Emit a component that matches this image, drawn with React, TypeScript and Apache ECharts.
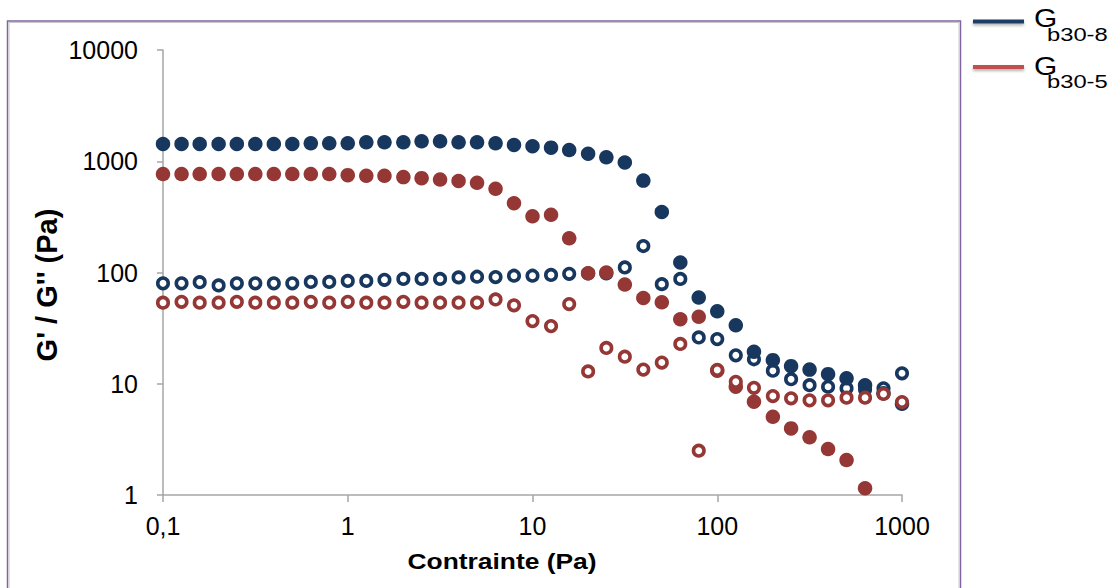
import React, { useEffect, useRef } from "react";
import * as echarts from "echarts";

// Stress (Pa) - logarithmic sweep, 10 points per decade
const stress = [
  0.1, 0.126, 0.158, 0.2, 0.251, 0.316, 0.398, 0.501, 0.631, 0.794,
  1, 1.26, 1.58, 2, 2.51, 3.16, 3.98, 5.01, 6.31, 7.94,
  10, 12.6, 15.8, 20, 25.1, 31.6, 39.8, 50.1, 63.1, 79.4,
  100, 126, 158, 200, 251, 316, 398, 501, 631, 794, 1000,
];

// G' (filled) and G'' (open) for Gb30-8
const gPrime8 = [
  1430, 1430, 1430, 1430, 1430, 1430, 1430, 1430, 1450, 1450,
  1450, 1480, 1480, 1480, 1510, 1510, 1480, 1480, 1450, 1400,
  1365, 1325, 1260, 1170, 1085, 975, 670, 350, 123, 59.6,
  44.8, 33.5, 19.4, 16.3, 14.4, 13.4, 12.2, 11.2, 9.7, 8.2, 6.6,
];
const gSecond8 = [
  80, 80, 81.8, 76.5, 80, 80, 80, 80, 82.3, 82.3,
  84, 84, 86, 87.5, 87.5, 87.5, 90.4, 91.6, 91, 93.5,
  93.5, 95, 97.3, 98, 98, 111, 173, 78.6, 87.5, 26.1,
  25.2, 18, 16.6, 13.1, 11, 9.7, 9.4, 9.1, 8.9, 9.1, 12.4,
];

// G' (filled) and G'' (open) for Gb30-5
const gPrime5 = [
  768, 768, 768, 768, 768, 768, 768, 768, 768, 768,
  750, 740, 740, 720, 705, 685, 665, 640, 565, 420,
  320, 330, 203, 98.5, 100, 78, 59, 54, 38, 40,
  13.1, 9.4, 6.9, 5.05, 3.97, 3.3, 2.59, 2.06, 1.15, null, null,
];
const gSecond5 = [
  53.5, 54.5, 53.5, 53.5, 54.5, 53.5, 53.5, 53.5, 54.5, 53.5,
  54.5, 53.5, 53.5, 54.5, 53.5, 53.5, 53.5, 53.5, 57.3, 50.7,
  36.6, 33, 52, 12.9, 21, 17.5, 13.4, 15.5, 22.8, 2.5,
  13.3, 10.4, 9.2, 7.75, 7.4, 7.1, 7.1, 7.5, 7.5, 8.1, 6.85,
];

const legendNames = ["b30-8", "b30-5"];
const xTitle = "Contrainte (Pa)";
const yTitle = "G' / G'' (Pa)";

const BLUE = "#17375E";
const RED = "#953735";
const FONT = "'Liberation Sans', Arial, sans-serif";

function pairs(ys: (number | null)[]) {
  const out: number[][] = [];
  ys.forEach((y, i) => {
    if (y !== null && y !== undefined) out.push([stress[i], y]);
  });
  return out;
}

function decadeLabel(v: number) {
  const e = Math.round(Math.log10(v));
  return e < 0 ? "0,1" : String(Math.round(Math.pow(10, e)));
}

export default function App() {
  const ref = useRef<HTMLDivElement>(null);
  useEffect(() => {
    if (!ref.current) return;
    const chart = echarts.init(ref.current, null, { renderer: "svg" });
    const axisLine = { show: true, lineStyle: { color: "#A6A6A6", width: 1.5 } };
    const filled = (name: string, data: (number | null)[], color: string, z: number) => ({
      name,
      type: "scatter",
      data: pairs(data),
      symbol: "circle",
      symbolSize: 14.5,
      z,
      itemStyle: { color, opacity: 1 },
    });
    const open = (name: string, data: (number | null)[], color: string, z: number) => ({
      name,
      type: "scatter",
      data: pairs(data),
      symbol: "circle",
      symbolSize: 10.5,
      z,
      itemStyle: { color: "#FFFFFF", borderColor: color, borderWidth: 3.6, opacity: 1 },
    });
    const legendBar = (y: number, color: string) => ({
      type: "rect",
      silent: true,
      shape: { x: 973, y: y - 2, width: 51, height: 4 },
      style: {
        fill: color,
        shadowColor: "rgba(0,0,0,0.3)",
        shadowBlur: 3,
        shadowOffsetY: 2,
      },
    });
    const legendText = (x: number, y: number, text: string, size: number, sx: number) => ({
      type: "text",
      x,
      y,
      scaleX: sx,
      silent: true,
      style: { text, fontSize: size, fontFamily: FONT, fill: "#000", align: "left", verticalAlign: "middle" },
    });
    chart.setOption({
      animation: false,
      backgroundColor: "#FFFFFF",
      grid: { left: 163, top: 50, width: 739, height: 445 },
      xAxis: {
        type: "log",
        logBase: 10,
        min: 0.1,
        max: 1000,
        axisLine,
        axisTick: { show: true, length: 7, lineStyle: { color: "#A6A6A6", width: 1.5 } },
        minorTick: { show: false },
        splitLine: { show: false },
        axisLabel: {
          margin: 18,
          fontSize: 25,
          color: "#000",
          fontFamily: FONT,
          formatter: decadeLabel,
        },
      },
      yAxis: {
        type: "log",
        logBase: 10,
        min: 1,
        max: 10000,
        axisLine,
        axisTick: { show: true, length: 6, lineStyle: { color: "#A6A6A6", width: 1.5 } },
        minorTick: { show: false },
        splitLine: { show: false },
        axisLabel: {
          margin: 25,
          fontSize: 25,
          color: "#000",
          fontFamily: FONT,
          formatter: decadeLabel,
        },
      },
      series: [
        open("G'' " + legendNames[0], gSecond8, BLUE, 2),
        filled("G' " + legendNames[0], gPrime8, BLUE, 3),
        filled("G' " + legendNames[1], gPrime5, RED, 4),
        open("G'' " + legendNames[1], gSecond5, RED, 5),
      ],
      graphic: [
        {
          type: "rect",
          silent: true,
          shape: { x: 7.5, y: 21, width: 953, height: 600 },
          style: { fill: "none", stroke: "#8064A2", lineWidth: 1.5 },
        },
        {
          type: "rect",
          silent: true,
          shape: { x: 9, y: 22.5, width: 950, height: 600 },
          style: { fill: "none", stroke: "#C8C8C8", lineWidth: 1 },
        },
        {
          type: "text",
          x: 502,
          y: 561,
          scaleX: 1.2,
          silent: true,
          style: {
            text: xTitle,
            fontSize: 22,
            fontWeight: "bold",
            fontFamily: FONT,
            fill: "#000",
            align: "center",
            verticalAlign: "middle",
          },
        },
        {
          type: "text",
          x: 47,
          y: 285,
          rotation: Math.PI / 2,
          silent: true,
          style: {
            text: yTitle,
            fontSize: 29,
            fontWeight: "bold",
            fontFamily: FONT,
            fill: "#000",
            align: "center",
            verticalAlign: "middle",
          },
        },
        legendBar(21.5, "#1F3D66"),
        legendBar(67, "#C0504D"),
        legendText(1034, 18, "G", 26, 1.15),
        legendText(1047, 35, legendNames[0], 19, 1.25),
        legendText(1034, 66, "G", 26, 1.15),
        legendText(1047, 82, legendNames[1], 19, 1.25),
      ],
    });
    return () => chart.dispose();
  }, []);
  return (
    <div
      ref={ref}
      style={{ position: "fixed", left: 0, top: 0, width: 1115, height: 588, background: "#fff" }}
    />
  );
}
